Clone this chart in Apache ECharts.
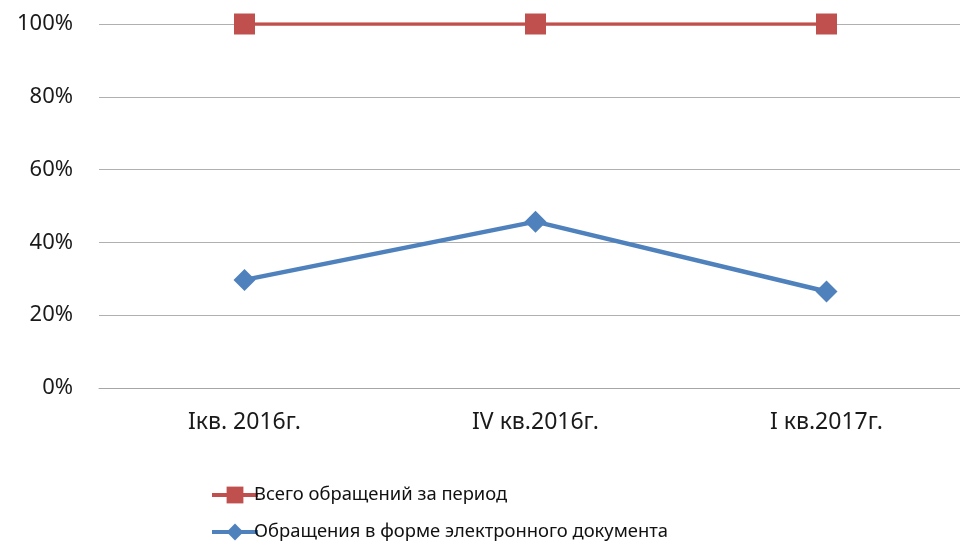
<!DOCTYPE html>
<html><head><meta charset="utf-8">
<script src="https://cdn.jsdelivr.net/npm/echarts@6/dist/echarts.min.js"></script>
<style>html,body{margin:0;padding:0;background:#fff}#c{width:960px;height:546px}</style>
</head><body><div id="c"></div>
<script>
const categories = ['Iкв. 2016г.', 'IV кв.2016г.', 'I кв.2017г.'];
const seriesNames = ['Всего обращений за период', 'Обращения в форме электронного документа'];
const totalValues = [100, 100, 100];
const electronicValues = [29.7, 45.7, 26.5];
const yTicks = [0, 20, 40, 60, 80, 100];

const FONT = "'Noto Sans', sans-serif";
const chart = echarts.init(document.getElementById('c'), null, {renderer: 'canvas'});
chart.setOption({
  animation: false,
  backgroundColor: '#fff',
  grid: {left: 99, right: -12, top: 24, bottom: 158, outerBoundsMode: 'none'},
  xAxis: {
    type: 'category', data: categories, boundaryGap: true,
    axisLine: {show: true, lineStyle: {color: '#a6a6a6', width: 1}},
    axisTick: {show: false},
    axisLabel: {color: '#1a1a1a', fontFamily: FONT, fontSize: 23, margin: 23}
  },
  yAxis: {
    type: 'value', min: yTicks[0], max: yTicks[yTicks.length - 1], interval: 20,
    axisLine: {show: false}, axisTick: {show: false},
    splitLine: {lineStyle: {color: '#b0b0b0', width: 1}},
    axisLabel: {color: '#1a1a1a', fontFamily: FONT, fontSize: 22, margin: 26, formatter: '{value}%'}
  },
  legend: {
    orient: 'vertical', left: 205, top: 481, itemGap: 19,
    itemWidth: 46, itemHeight: 21,
    textStyle: {color: '#111', fontFamily: FONT, fontSize: 18.4, padding: [0, 0, 0, -9]},
    lineStyle: {width: 4},
    data: seriesNames
  },
  series: [
    {
      name: seriesNames[0], type: 'line', data: totalValues,
      symbol: 'rect', symbolSize: 21,
      itemStyle: {color: '#C0504D'},
      lineStyle: {color: '#C0504D', width: 3.5}
    },
    {
      name: seriesNames[1], type: 'line', data: electronicValues,
      symbol: 'diamond', symbolSize: 22,
      itemStyle: {color: '#4F81BD'},
      lineStyle: {color: '#4F81BD', width: 4.5}
    }
  ]
});
</script></body></html>
